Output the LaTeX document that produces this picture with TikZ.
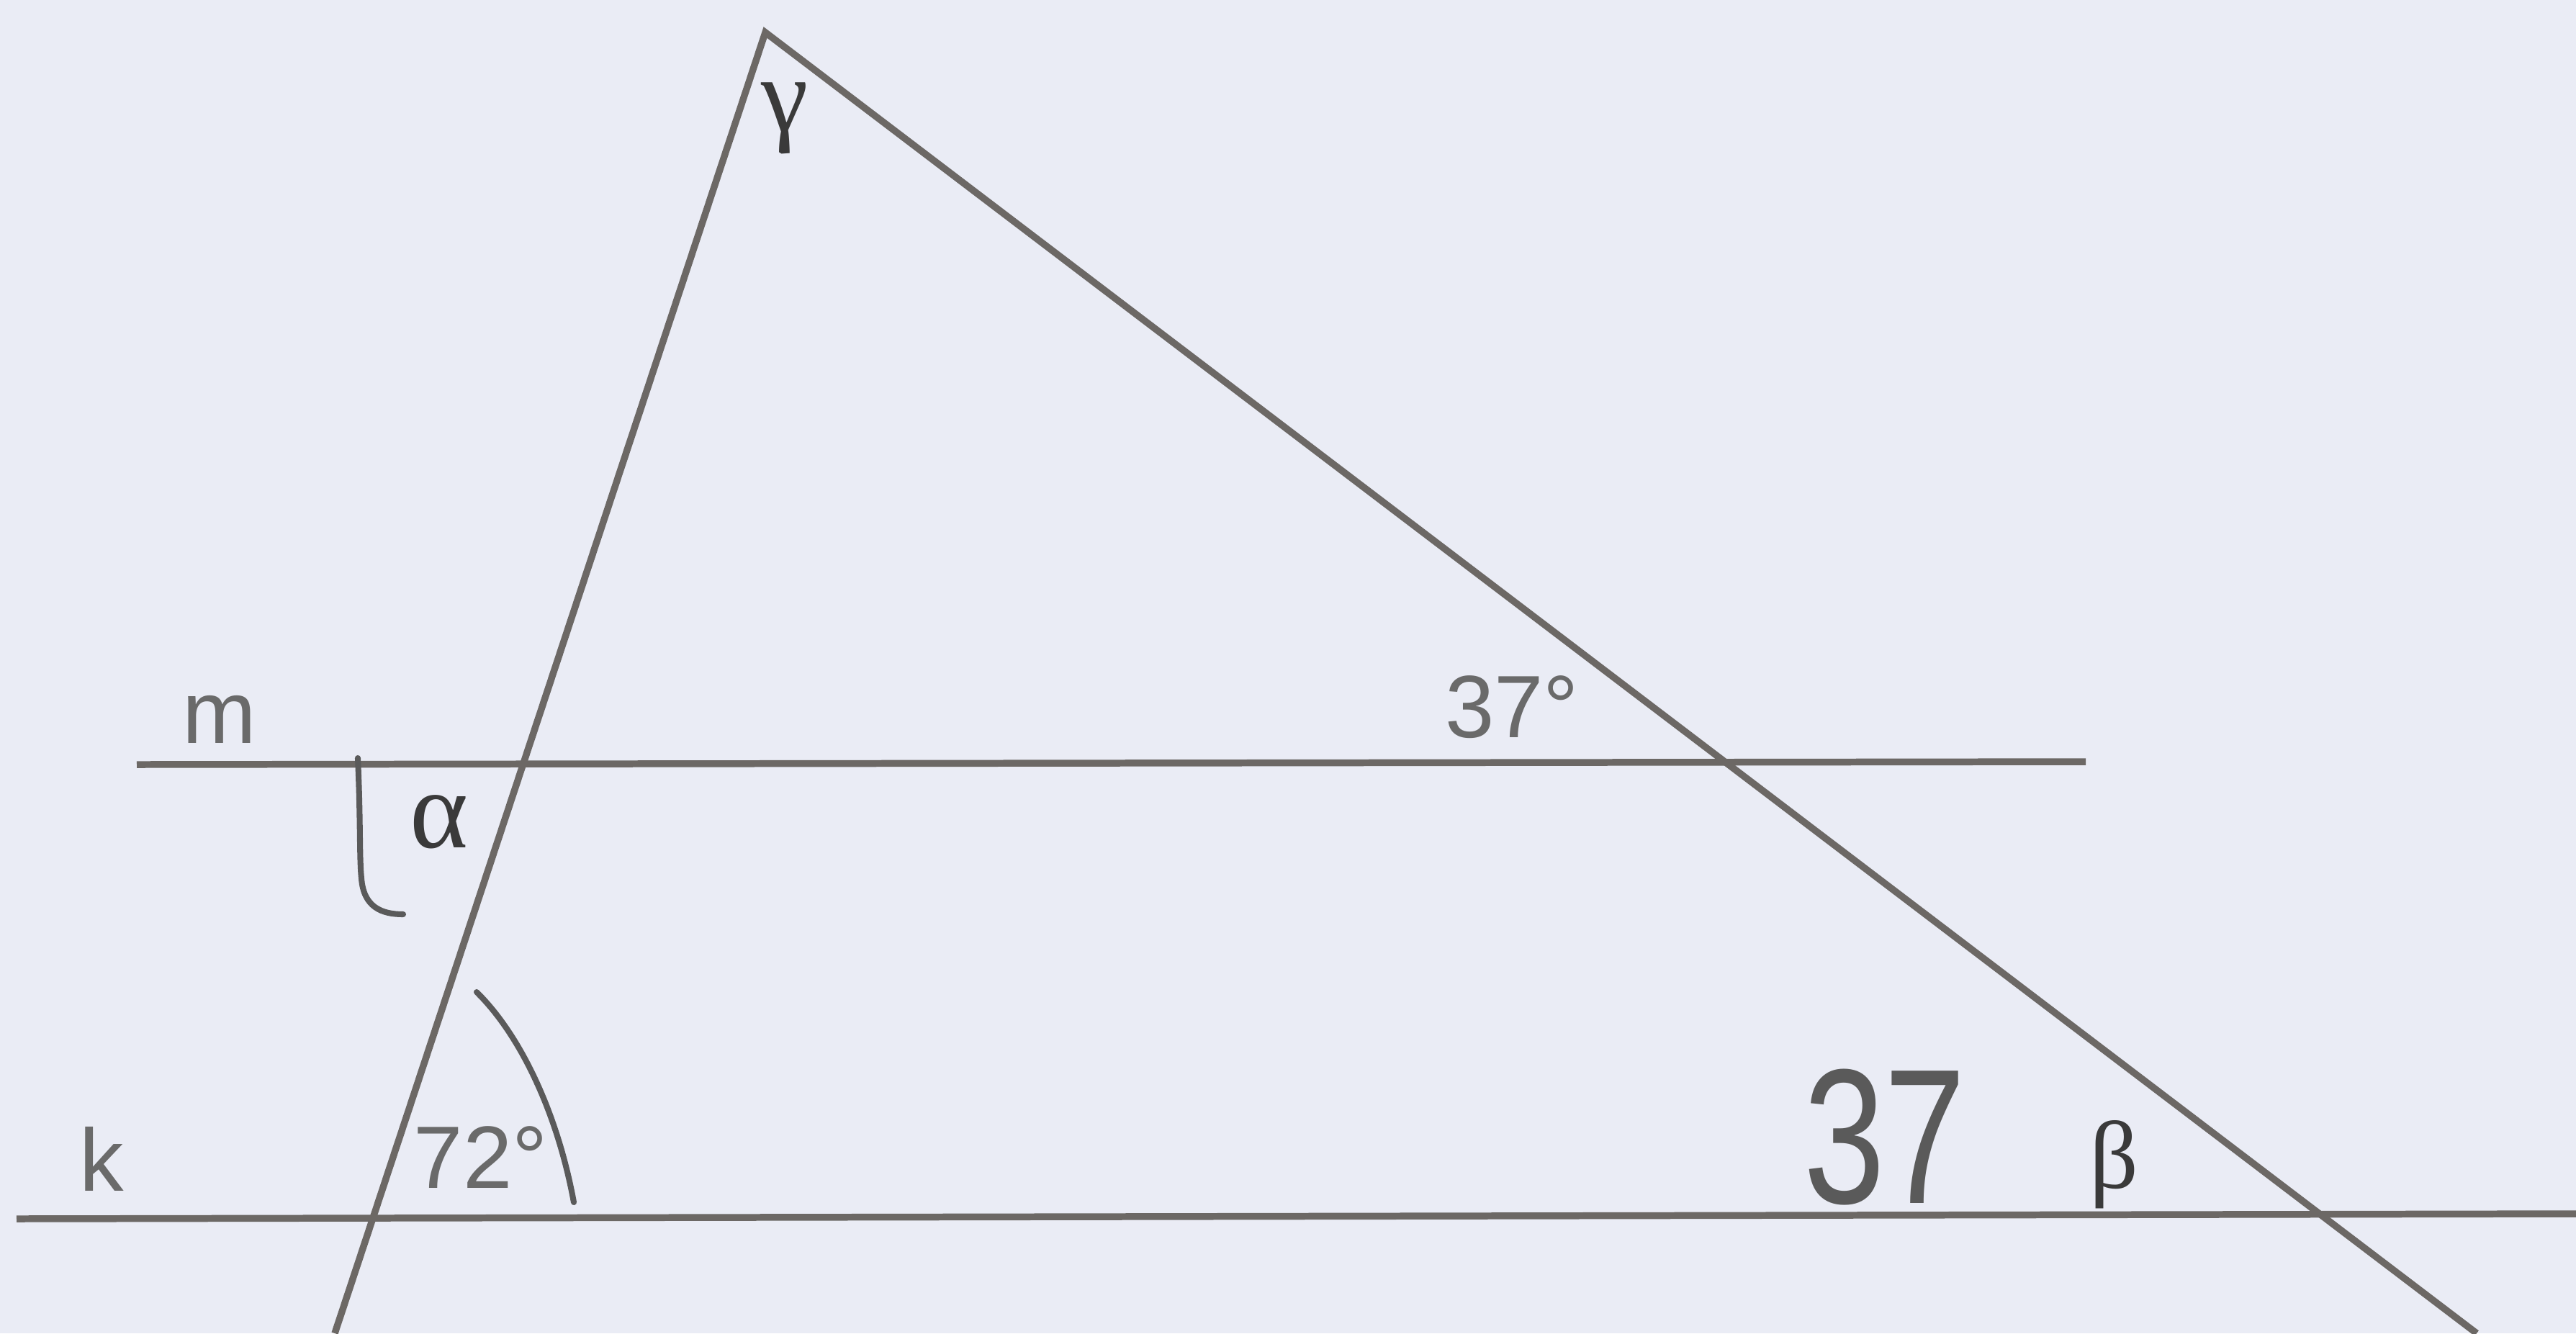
\documentclass[tikz,border=0pt]{standalone}
\usepackage{fontspec}
\setmainfont{Liberation Sans}
\newfontfamily\grk{Liberation Serif}
\definecolor{bg}{HTML}{EAECF5}
\definecolor{ln}{HTML}{6C6865}
\definecolor{lbl}{HTML}{6A6A6A}
\definecolor{grkc}{HTML}{3A3A3A}
\definecolor{hand}{HTML}{5A5A5A}
\tikzset{
  geoline/.style={draw=ln, line width=2.7pt},
  anglemark/.style={draw=hand, line width=2.3pt, line cap=round},
  sanslbl/.style={inner sep=0pt, text=lbl, font=\fontsize{35}{40}\selectfont},
  greeklbl/.style={inner sep=0pt, text=grkc},
}
\begin{document}
\begin{tikzpicture}
\fill[bg] (0,0) rectangle (35.78,-18.52);
\useasboundingbox (0,0) rectangle (35.78,-18.52);
% points
\coordinate (A) at (10.63,-0.45);
\coordinate (Lb) at (4.65,-18.52);
\coordinate (Rb) at (34.40,-18.52);
\coordinate (m1) at (1.90,-10.62);
\coordinate (m2) at (28.97,-10.58);
\coordinate (k1) at (0.23,-16.93);
\coordinate (k2) at (35.78,-16.86);
% lines
\draw[geoline] (m1) -- (m2);
\draw[geoline] (k1) -- (k2);
\draw[geoline, line join=miter] (Lb) -- (A) -- (Rb);
% angle marks
\coordinate (a1) at (4.97,-10.53);
\coordinate (a2) at (5.60,-12.70);
\draw[anglemark] (a1) .. controls (5.01,-11.4) and (4.99,-11.9) .. (5.02,-12.2) .. controls (5.05,-12.6) and (5.3,-12.7) .. (a2);
\coordinate (b1) at (6.62,-13.78);
\coordinate (b2) at (7.97,-16.70);
\draw[anglemark] (b1) .. controls (7.25,-14.4) and (7.75,-15.5) .. (b2);
% labels
\node[sanslbl] (lm) at (3.05,-9.99) {m};
\node[sanslbl] (lk) at (1.41,-16.10) {k};
\node[sanslbl] (l37) at (21.00,-9.82) {37°};
\node[sanslbl] (l72) at (6.68,-16.08) {72°};
\node[greeklbl, font=\grk\fontsize{42}{48}\selectfont] (lg) at (10.90,-1.64) {γ};
\node[greeklbl, font=\grk\fontsize{44}{50}\selectfont] (la) at (6.10,-11.42) {α};
\node[greeklbl, font=\grk\fontsize{38}{44}\selectfont] (lb) at (29.36,-16.18) {β};
\node[inner sep=0pt, text=hand, font=\fontsize{76}{84}\selectfont] (l37h) at (26.18,-15.80) {\scalebox{0.76}[1]{37}};
\end{tikzpicture}
\end{document}
